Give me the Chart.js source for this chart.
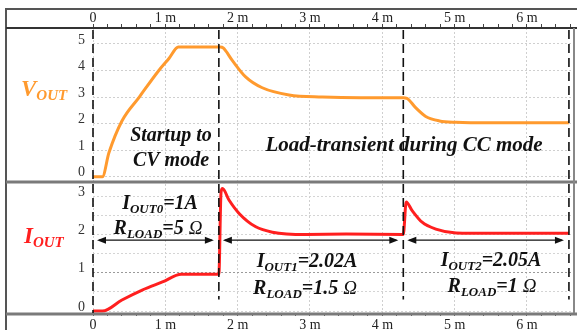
<!DOCTYPE html>
<html>
<head>
<meta charset="utf-8">
<script src="https://cdn.jsdelivr.net/npm/chart.js@4/dist/chart.umd.min.js"></script>
<style>
  html, body { margin: 0; padding: 0; background: #fff; }
  #wrap { width: 577px; height: 330px; position: relative; }
</style>
</head>
<body>
<div id="wrap"><canvas id="scope" width="577" height="330"></canvas></div>
<script>
// time in ms
var voutTime = [0, 0.13, 0.22, 0.4, 0.64, 0.91, 1.05, 1.18, 1.76, 1.8, 1.92, 2.11, 2.34, 2.71, 3.17, 3.7, 4.29, 4.34, 4.46, 4.6, 4.79, 5.02, 5.5, 6.0, 6.58];
var voutVals = [0, 0, 0.9, 2.1, 3.0, 4.0, 4.45, 4.88, 4.88, 4.85, 4.4, 3.76, 3.35, 3.08, 3.0, 2.97, 2.97, 2.95, 2.6, 2.27, 2.1, 2.05, 2.03, 2.03, 2.03];

var ioutTime = [0, 0.13, 0.4, 0.68, 0.96, 1.22, 1.74, 1.77, 1.79, 1.88, 2.02, 2.25, 2.48, 2.94, 3.5, 4.29, 4.33, 4.41, 4.55, 4.74, 5.02, 5.5, 6.0, 6.58];
var ioutVals = [0, 0, 0.29, 0.55, 0.76, 0.96, 0.96, 3.1, 3.2, 2.9, 2.55, 2.2, 2.06, 2.0, 2.01, 2.0, 2.85, 2.63, 2.32, 2.14, 2.04, 2.03, 2.03, 2.03];

// load step instants (dashed markers) and the arrow level on the current panel
var stepTimes = [0, 1.74, 4.29, 6.58];
var arrowLevel = 1.85;

var ORANGE = '#ff9a2e';
var RED = '#ff1f1f';
var SERIF = '"Liberation Serif", "DejaVu Serif", serif';

function toPoints(xs, ys) {
    return xs.map(function(x, i) { return { x: x, y: ys[i] }; });
}

function isMajor(v) {
    return Math.abs(v - Math.round(v)) < 1e-6;
}

function timeLabel(v) {
    if (!isMajor(v)) return '';
    var n = Math.round(v);
    return n === 0 ? '0' : n + ' m';
}

// rich text: parts of {t, sub, font}
function drawRich(ctx, parts, cx, cy, size, color, align) {
    var main = 'bold italic ' + size + 'px ' + SERIF;
    var sub = 'bold italic ' + Math.round(size * 0.66) + 'px ' + SERIF;
    var total = 0;
    parts.forEach(function(p) {
        ctx.font = p.font || (p.sub ? sub : main);
        p.w = ctx.measureText(p.t).width;
        total += p.w;
    });
    var x = align === 'left' ? cx : cx - total / 2;
    ctx.fillStyle = color;
    ctx.textAlign = 'left';
    ctx.textBaseline = 'middle';
    parts.forEach(function(p) {
        ctx.font = p.font || (p.sub ? sub : main);
        ctx.fillText(p.t, x, cy + (p.sub ? size * 0.28 : 0));
        x += p.w;
    });
}

function arrow(ctx, x1, x2, y) {
    ctx.save();
    ctx.strokeStyle = '#111';
    ctx.fillStyle = '#111';
    ctx.lineWidth = 1.2;
    ctx.beginPath();
    ctx.moveTo(x1 + 2, y);
    ctx.lineTo(x2 - 2, y);
    ctx.stroke();
    [[x1, 1], [x2, -1]].forEach(function(a) {
        ctx.beginPath();
        ctx.moveTo(a[0], y);
        ctx.lineTo(a[0] + a[1] * 9, y - 3.5);
        ctx.lineTo(a[0] + a[1] * 9, y + 3.5);
        ctx.closePath();
        ctx.fill();
    });
    ctx.restore();
}

var scopeDecor = {
    id: 'scopeDecor',
    afterDatasetsDraw: function(chart) {
        var ctx = chart.ctx;
        var xs = chart.scales.x, yV = chart.scales.yV, yI = chart.scales.yI;
        var area = chart.chartArea;
        var W = chart.width;

        ctx.save();
        // frame
        ctx.strokeStyle = '#555';
        ctx.lineWidth = 2;
        ctx.beginPath();
        ctx.moveTo(6, 330); ctx.lineTo(6, 9); ctx.lineTo(W, 9);
        ctx.stroke();
        ctx.strokeStyle = '#333';
        ctx.beginPath();
        ctx.moveTo(6, area.top); ctx.lineTo(W, area.top);
        ctx.stroke();
        ctx.strokeStyle = '#7a7a7a';
        ctx.lineWidth = 3;
        ctx.beginPath();
        ctx.moveTo(6, yV.bottom); ctx.lineTo(W, yV.bottom);
        ctx.moveTo(6, area.bottom + 1); ctx.lineTo(W, area.bottom + 1);
        ctx.stroke();
        ctx.lineWidth = 2;
        ctx.strokeStyle = '#888';
        ctx.beginPath();
        ctx.moveTo(area.right, area.top); ctx.lineTo(area.right, area.bottom);
        ctx.stroke();

        // dashed step markers
        ctx.strokeStyle = '#111';
        ctx.lineWidth = 1.6;
        ctx.setLineDash([9, 5]);
        stepTimes.forEach(function(t, i) {
            var px = xs.getPixelForValue(t);
            var bottom = i === 0 ? area.bottom : yI.getPixelForValue(0.3);
            ctx.beginPath();
            ctx.moveTo(px, area.top + 2);
            ctx.lineTo(px, bottom);
            ctx.stroke();
        });
        ctx.setLineDash([]);

        // arrows between steps
        var ay = yI.getPixelForValue(arrowLevel);
        for (var i = 0; i < stepTimes.length - 1; i++) {
            arrow(ctx, xs.getPixelForValue(stepTimes[i]) + 4, xs.getPixelForValue(stepTimes[i + 1]) - 5, ay);
        }

        // panel names
        drawRich(ctx, [{ t: 'V' }, { t: 'OUT', sub: true }], 21, 90, 23, ORANGE, 'left');
        drawRich(ctx, [{ t: 'I' }, { t: 'OUT', sub: true }], 24, 237, 23, RED, 'left');

        // annotations
        var ohm = 'italic 19px ' + SERIF;
        var S = 20;
        drawRich(ctx, [{ t: 'Startup to' }], 171, 136, S, '#111');
        drawRich(ctx, [{ t: 'CV mode' }], 171, 161, S, '#111');
        drawRich(ctx, [{ t: 'Load-transient during CC mode' }], 404, 146, 21, '#111');
        drawRich(ctx, [{ t: 'I' }, { t: 'OUT0', sub: true }, { t: '=1A' }], 160, 204, S, '#111');
        drawRich(ctx, [{ t: 'R' }, { t: 'LOAD', sub: true }, { t: '=5 ' }, { t: 'Ω', font: ohm }], 158, 229, S, '#111');
        drawRich(ctx, [{ t: 'I' }, { t: 'OUT1', sub: true }, { t: '=2.02A' }], 307, 262, S, '#111');
        drawRich(ctx, [{ t: 'R' }, { t: 'LOAD', sub: true }, { t: '=1.5 ' }, { t: 'Ω', font: ohm }], 305, 289, S, '#111');
        drawRich(ctx, [{ t: 'I' }, { t: 'OUT2', sub: true }, { t: '=2.05A' }], 491, 261, S, '#111');
        drawRich(ctx, [{ t: 'R' }, { t: 'LOAD', sub: true }, { t: '=1 ' }, { t: 'Ω', font: ohm }], 492, 287, S, '#111');
        ctx.restore();
    }
};

var tickFont = { family: SERIF, size: 14 };

var chart = new Chart(document.getElementById('scope').getContext('2d'), {
    type: 'line',
    data: {
        datasets: [
            {
                label: 'Vout',
                data: toPoints(voutTime, voutVals),
                yAxisID: 'yV',
                borderColor: ORANGE,
                borderWidth: 3,
                pointRadius: 0,
                cubicInterpolationMode: 'monotone'
            },
            {
                label: 'Iout',
                data: toPoints(ioutTime, ioutVals),
                yAxisID: 'yI',
                borderColor: RED,
                borderWidth: 3,
                pointRadius: 0,
                cubicInterpolationMode: 'monotone'
            }
        ]
    },
    options: {
        responsive: false,
        animation: false,
        devicePixelRatio: 1,
        layout: { padding: { top: 9, left: 6, right: 3, bottom: 0 } },
        plugins: { legend: { display: false }, tooltip: { enabled: false } },
        scales: {
            x: {
                type: 'linear',
                position: 'bottom',
                min: 0,
                max: 6.65,
                afterFit: function(s) { s.height = 17; },
                border: { display: false, dash: [2, 2] },
                grid: {
                    color: function(c) { return isMajor(c.tick.value) ? '#cfcfcf' : 'rgba(0,0,0,0)'; },
                    tickColor: '#555',
                    tickLength: 3
                },
                ticks: {
                    stepSize: 0.2,
                    autoSkip: false,
                    maxRotation: 0,
                    includeBounds: false,
                    padding: 1,
                    color: '#222',
                    font: tickFont,
                    callback: timeLabel
                }
            },
            x2: {
                type: 'linear',
                position: 'top',
                min: 0,
                max: 6.65,
                afterFit: function(s) { s.height = 19; },
                border: { display: false },
                grid: { drawOnChartArea: false, tickColor: '#444', tickLength: 4 },
                ticks: {
                    stepSize: 0.2,
                    autoSkip: false,
                    maxRotation: 0,
                    includeBounds: false,
                    padding: -3,
                    color: '#222',
                    font: tickFont,
                    callback: timeLabel
                }
            },
            yI: {
                type: 'linear',
                position: 'left',
                stack: 'scope',
                stackWeight: 131,
                min: -0.05,
                max: 3.37,
                afterFit: function(s) { s.width = 87; },
                border: { display: false, dash: [2, 2] },
                grid: {
                    color: function(c) { return Math.abs(c.tick.value - 1) < 1e-6 ? '#9a9a9a' : '#d4d4d4'; },
                    drawTicks: false
                },
                ticks: {
                    stepSize: 0.5,
                    autoSkip: false,
                    includeBounds: false,
                    padding: 8,
                    labelOffset: -4,
                    color: '#333',
                    font: tickFont,
                    callback: function(v) { return isMajor(v) ? String(Math.round(v)) : ''; }
                }
            },
            yV: {
                type: 'linear',
                position: 'left',
                stack: 'scope',
                stackWeight: 154,
                min: -0.2,
                max: 5.6,
                afterFit: function(s) { s.width = 87; },
                border: { display: false, dash: [2, 2] },
                grid: { color: '#cfcfcf', drawTicks: false },
                ticks: {
                    stepSize: 1,
                    autoSkip: false,
                    includeBounds: false,
                    padding: 8,
                    labelOffset: -4,
                    color: '#333',
                    font: tickFont
                }
            }
        }
    },
    plugins: [scopeDecor]
});
</script>
</body>
</html>
